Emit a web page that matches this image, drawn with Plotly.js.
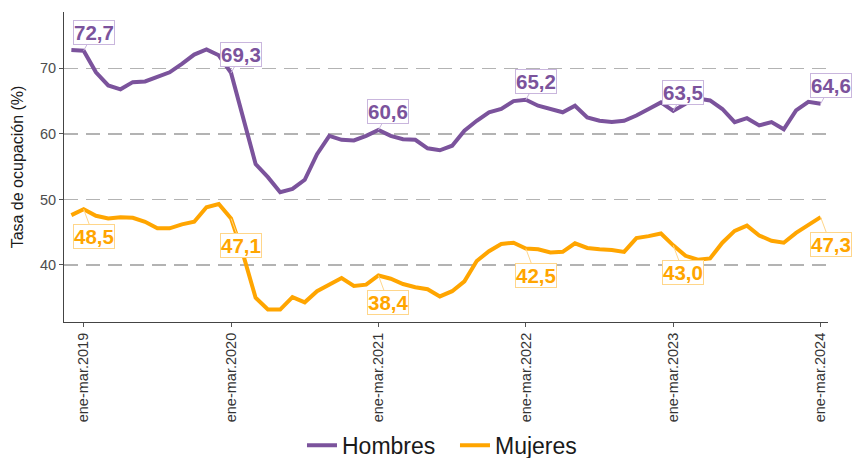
<!DOCTYPE html>
<html>
<head>
<meta charset="utf-8">
<script src="https://cdn.plot.ly/plotly-3.0.1.min.js"></script>
<style>html,body{margin:0;padding:0;background:#fff;}#chart{width:854px;height:458px;}</style>
</head>
<body>
<div id="chart"></div>
<script>
const periods = [
 "dic-feb.2019","ene-mar.2019","feb-abr.2019","mar-may.2019","abr-jun.2019","may-jul.2019","jun-ago.2019","jul-sep.2019","ago-oct.2019","sep-nov.2019","oct-dic.2019","nov-ene.2020","dic-feb.2020",
 "ene-mar.2020","feb-abr.2020","mar-may.2020","abr-jun.2020","may-jul.2020","jun-ago.2020","jul-sep.2020","ago-oct.2020","sep-nov.2020","oct-dic.2020","nov-ene.2021","dic-feb.2021",
 "ene-mar.2021","feb-abr.2021","mar-may.2021","abr-jun.2021","may-jul.2021","jun-ago.2021","jul-sep.2021","ago-oct.2021","sep-nov.2021","oct-dic.2021","nov-ene.2022","dic-feb.2022",
 "ene-mar.2022","feb-abr.2022","mar-may.2022","abr-jun.2022","may-jul.2022","jun-ago.2022","jul-sep.2022","ago-oct.2022","sep-nov.2022","oct-dic.2022","nov-ene.2023","dic-feb.2023",
 "ene-mar.2023","feb-abr.2023","mar-may.2023","abr-jun.2023","may-jul.2023","jun-ago.2023","jul-sep.2023","ago-oct.2023","sep-nov.2023","oct-dic.2023","nov-ene.2024","dic-feb.2024",
 "ene-mar.2024"
];
const hombres = [
 72.8,72.7,69.4,67.4,66.8,67.9,68.0,68.7,69.4,70.7,72.1,72.9,72.0,
 69.3,62.5,55.4,53.4,51.1,51.6,53.0,56.9,59.7,59.1,59.0,59.7,
 60.6,59.7,59.2,59.1,57.8,57.5,58.2,60.5,62.0,63.3,63.8,65.0,
 65.2,64.3,63.8,63.3,64.3,62.5,62.0,61.8,62.0,62.8,63.8,64.8,
 63.5,64.6,65.4,65.1,63.8,61.8,62.4,61.3,61.8,60.7,63.6,64.9,
 64.6
];
const mujeres = [
 47.6,48.5,47.5,47.1,47.3,47.2,46.6,45.6,45.6,46.2,46.6,48.8,49.3,
 47.1,41.5,35.0,33.2,33.2,35.1,34.3,36.0,37.0,38.0,36.8,37.0,
 38.4,37.9,37.1,36.6,36.3,35.2,36.0,37.5,40.6,42.1,43.2,43.4,
 42.5,42.4,41.9,42.0,43.3,42.6,42.4,42.3,42.0,44.1,44.4,44.8,
 43.0,41.4,40.8,41.0,43.4,45.2,46.0,44.5,43.7,43.4,44.9,46.1,
 47.3
];
const tickPeriods = ["ene-mar.2019","ene-mar.2020","ene-mar.2021","ene-mar.2022","ene-mar.2023","ene-mar.2024"];
const yTicks = [40, 50, 60, 70];

const colH = "#7b539c", colM = "#ffa500";
const fmt = v => v.toFixed(1).replace(".", ",");

const traces = [
  {x: periods, y: hombres, name: "Hombres", type: "scatter", mode: "lines",
   line: {color: colH, width: 4}, cliponaxis: false},
  {x: periods, y: mujeres, name: "Mujeres", type: "scatter", mode: "lines",
   line: {color: colM, width: 4}, cliponaxis: false}
];

const annotations = [];
tickPeriods.forEach(p => {
  const idx = periods.indexOf(p);
  annotations.push({x: p, y: hombres[idx], xref: "x", yref: "y", text: fmt(hombres[idx]),
    showarrow: true, arrowhead: 0, arrowwidth: 1, arrowcolor: "#c9b6dd", ax: 10, ay: -18, standoff: 0,
    font: {family: "Liberation Sans, Arial, sans-serif", size: 20.5, color: colH, weight: "bold"},
    bgcolor: "#ffffff", bordercolor: "#c9b6dd", borderwidth: 1, borderpad: 0});
  annotations.push({x: p, y: mujeres[idx], xref: "x", yref: "y", text: fmt(mujeres[idx]),
    showarrow: true, arrowhead: 0, arrowwidth: 1, arrowcolor: "#ffd68a", ax: 10, ay: 27, standoff: 0,
    font: {family: "Liberation Sans, Arial, sans-serif", size: 20.5, color: colM, weight: "bold"},
    bgcolor: "#ffffff", bordercolor: "#ffd68a", borderwidth: 1, borderpad: 0});
});

const layout = {
  width: 854, height: 458,
  margin: {l: 64, r: 26, t: 12, b: 136},
  paper_bgcolor: "#fff", plot_bgcolor: "#fff",
  font: {family: "Liberation Sans, Arial, sans-serif", color: "#4d4d4d"},
  showlegend: true,
  legend: {orientation: "h", x: 0.3115, xanchor: "left", yref: "container", y: 0.028, yanchor: "middle",
    font: {size: 23, color: "#1a1a1a"}, itemwidth: 30, entrywidth: 108, entrywidthmode: "pixels",
    traceorder: "normal", bgcolor: "rgba(0,0,0,0)"},
  xaxis: {type: "category", categoryorder: "array", categoryarray: periods,
    range: [-0.6, 61.6], tickmode: "array", tickvals: tickPeriods, ticktext: tickPeriods,
    tickangle: -90, tickfont: {size: 14.5, color: "#333"}, ticks: "outside", ticklen: 4, tickcolor: "#555",
    showline: true, linecolor: "#444", linewidth: 1, showgrid: false, zeroline: false, fixedrange: true},
  yaxis: {range: [31.3, 78.6], tickmode: "array", tickvals: yTicks, ticktext: yTicks.map(String),
    tickfont: {size: 14.5, color: "#4d4d4d"}, ticks: "outside", ticklen: 4, tickcolor: "#555",
    showline: true, linecolor: "#444", linewidth: 1, zeroline: false,
    showgrid: true, gridcolor: "#b3b3b3", gridwidth: 1.5, griddash: "14px,8px",
    title: {text: "Tasa de ocupación (%)", font: {size: 16, color: "#1a1a1a"}, standoff: 12}},
  annotations: annotations
};

Plotly.newPlot("chart", traces, layout, {displayModeBar: false, staticPlot: true});
</script>
</body>
</html>
